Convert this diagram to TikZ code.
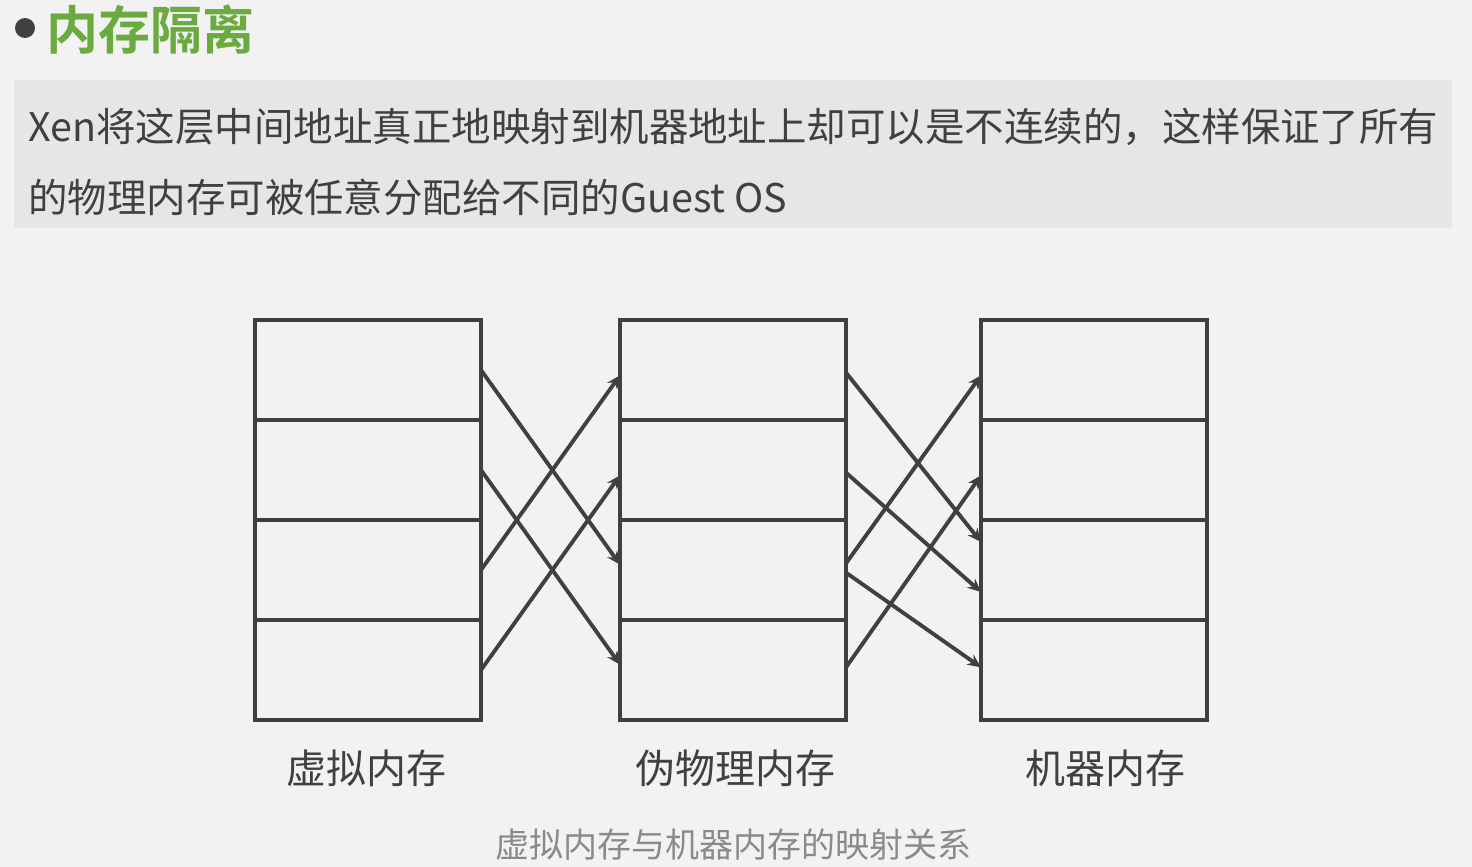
\documentclass[tikz,border=0pt]{standalone}
\usepackage{fontspec}
\setmainfont{Noto Sans CJK SC}
\newfontfamily\cjkbold{Noto Sans CJK SC Bold}
\usetikzlibrary{arrows.meta}
\definecolor{bgcol}{HTML}{F2F2F2}
\definecolor{bannercol}{HTML}{E6E6E6}
\definecolor{inkcol}{HTML}{404040}
\definecolor{titlecol}{HTML}{6AAA3F}
\definecolor{capcol}{HTML}{8A8A8A}
\tikzset{
  cell/.style={draw=inkcol, line width=3.3pt, minimum width=169.5pt, minimum height=75pt, inner sep=0pt, outer sep=0pt},
  maparrow/.style={draw=inkcol, line width=2.9pt, -{Stealth[length=10pt,width=9pt]}},
  collabel/.style={text=inkcol, font=\fontsize{30pt}{32pt}\selectfont, inner sep=0pt},
  bodytext/.style={text=inkcol, font=\fontsize{29.6pt}{31pt}\selectfont, anchor=west, inner sep=0pt},
}
\begin{document}
\begin{tikzpicture}[x=0.75pt,y=-0.75pt]
\fill[bgcol] (0,0) rectangle (1472,867);
\useasboundingbox (0,0) rectangle (1472,867);
\fill[bannercol] (14,80) rectangle (1452,228);
% title
\fill[inkcol] (25,28) circle (10);
\node[anchor=west, inner sep=0pt, text=titlecol, font=\cjkbold\fontsize{39pt}{41pt}\selectfont] (title) at (46,30) {内存隔离};
\node[bodytext] (line1) at (28,127) {Xen将这层中间地址真正地映射到机器地址上却可以是不连续的，这样保证了所有};
\node[bodytext] (line2) at (28,197) {的物理内存可被任意分配给不同的Guest OS};
% columns
\foreach \i/\y in {1/370,2/470,3/570,4/670}{
  \node[cell] (v\i) at (368,\y) {};
  \node[cell] (p\i) at (733,\y) {};
  \node[cell] (m\i) at (1094,\y) {};
}
% gap 1
\draw[maparrow] (v1.east) -- ([yshift=4pt]p3.west);
\draw[maparrow] (v2.east) -- ([yshift=4pt]p4.west);
\draw[maparrow] (v3.east) -- ([yshift=-4pt]p1.west);
\draw[maparrow] (v4.east) -- ([yshift=-4pt]p2.west);
% gap 2
\draw[maparrow] ([yshift=-2pt]p1.east) -- ([yshift=21pt]m3.west);
\draw[maparrow] ([yshift=-2pt]p2.east) -- ([yshift=-16.5pt]m3.west);
\draw[maparrow] ([yshift=-2pt]p3.east) -- ([yshift=2pt]m4.west);
\draw[maparrow] ([yshift=5pt]p3.east) -- ([yshift=-4pt]m1.west);
\draw[maparrow] ([yshift=2pt]p4.east) -- ([yshift=-4pt]m2.west);
% labels
\node[collabel] (lv) at (366,768) {虚拟内存};
\node[collabel] (lp) at (735,768) {伪物理内存};
\node[collabel] (lm) at (1105,768) {机器内存};
\node[text=capcol, font=\fontsize{25.5pt}{27pt}\selectfont, inner sep=0pt] (cap) at (733,845) {虚拟内存与机器内存的映射关系};
\end{tikzpicture}
\end{document}
